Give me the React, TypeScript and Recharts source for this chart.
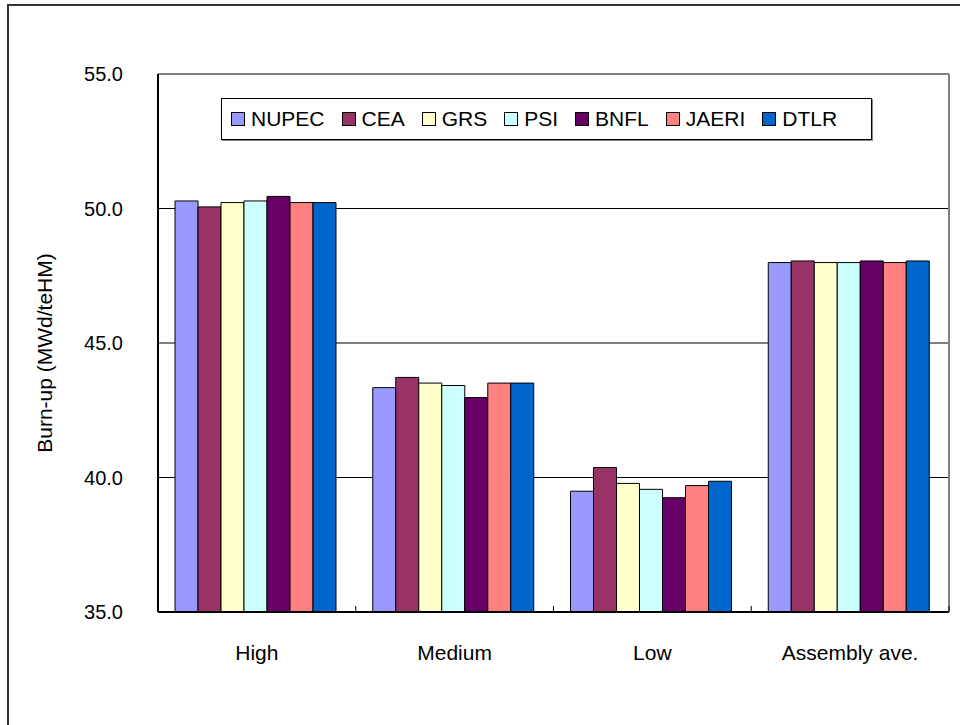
import { BarChart, Bar, XAxis, YAxis, CartesianGrid } from "recharts";

const categories = ["High", "Medium", "Low", "Assembly ave."];

const seriesNames = ["NUPEC", "CEA", "GRS", "PSI", "BNFL", "JAERI", "DTLR"];
const seriesColors = ["#9999FF", "#993366", "#FFFFCC", "#CCFFFF", "#660066", "#FF8080", "#0066CC"];

// burn-up per region, one array per participant
const nupec = [50.28, 43.34, 39.49, 47.99];
const cea = [50.06, 43.72, 40.37, 48.05];
const grs = [50.22, 43.51, 39.78, 47.99];
const psi = [50.28, 43.42, 39.56, 47.99];
const bnfl = [50.45, 42.97, 39.25, 48.05];
const jaeri = [50.22, 43.51, 39.7, 47.99];
const dtlr = [50.22, 43.51, 39.86, 48.05];

const yTicks = [35, 40, 45, 50, 55];

const seriesValues = [nupec, cea, grs, psi, bnfl, jaeri, dtlr];

const chartData = categories.map((name, i) => {
  const row: Record<string, string | number> = { name };
  seriesNames.forEach((s, j) => {
    row[s] = seriesValues[j][i];
  });
  return row;
});

const FONT = "'Liberation Sans', Arial, Helvetica, sans-serif";
const TICK_GAP = 33;

function YLabel({ viewBox }: any) {
  const cy = viewBox.y + viewBox.height / 2 + 10;
  return (
    <text
      x={52}
      y={cy}
      transform={`rotate(-90, 52, ${cy})`}
      textAnchor="middle"
      fontSize={21}
      fontFamily={FONT}
      fill="#000"
    >
      Burn-up (MWd/teHM)
    </text>
  );
}

// category label plus the small inward tick at the band boundaries
function CatTick({ x, y, payload, index, visibleTicksCount }: any) {
  const half = payload.offset || 791 / categories.length / 2;
  const axisY = y - TICK_GAP;
  const last = index === (visibleTicksCount ?? categories.length) - 1;
  return (
    <g>
      <line x1={x - half} x2={x - half} y1={axisY} y2={axisY - 6} stroke="#000" />
      {last && <line x1={x + half} x2={x + half} y1={axisY} y2={axisY - 6} stroke="#000" />}
      <text x={x} y={y} dy="0.71em" textAnchor="middle" fontSize={21} fontFamily={FONT} fill="#000">
        {payload.value}
      </text>
    </g>
  );
}

export default function App() {
  return (
    <div
      style={{
        position: "absolute",
        left: 0,
        top: 0,
        width: 960,
        height: 725,
        overflow: "hidden",
        background: "#fff",
        fontFamily: FONT,
      }}
    >
      <div
        style={{
          position: "absolute",
          left: 7,
          top: 4,
          width: 980,
          height: 760,
          border: "2px solid #333",
        }}
      />
      <BarChart
        width={960}
        height={725}
        data={chartData}
        margin={{ top: 73, right: 10, left: 78, bottom: 112 }}
        barCategoryGap={17}
        barGap={0}
        style={{ position: "absolute", left: 0, top: 0 }}
      >
        <CartesianGrid
          yAxisId="left"
          xAxisId="cat"
          vertical={false}
          horizontalValues={[40, 45, 50]}
          stroke="#000"
          strokeWidth={1}
        />
        <XAxis
          xAxisId="top"
          orientation="top"
          dataKey="name"
          height={1}
          tick={false}
          tickLine={false}
          axisLine={{ stroke: "#808080", strokeWidth: 2 }}
        />
        <XAxis
          xAxisId="cat"
          dataKey="name"
          height={1}
          tickLine={false}
          tickSize={0}
          tickMargin={TICK_GAP}
          axisLine={{ stroke: "#000", strokeWidth: 2 }}
          tick={<CatTick />}
        />
        <YAxis
          yAxisId="left"
          width={80}
          domain={[35, 55]}
          ticks={yTicks}
          allowDataOverflow
          tickFormatter={(v: number) => v.toFixed(1)}
          tickLine={false}
          tickSize={0}
          tickMargin={35}
          axisLine={{ stroke: "#000", strokeWidth: 2 }}
          tick={{ fontSize: 20, fill: "#000", fontFamily: FONT }}
          label={<YLabel />}
        />
        <YAxis
          yAxisId="r"
          orientation="right"
          width={1}
          domain={[35, 55]}
          tick={false}
          tickLine={false}
          axisLine={{ stroke: "#808080", strokeWidth: 2 }}
        />
        {seriesNames.map((s, j) => (
          <Bar
            key={s}
            dataKey={s}
            xAxisId="cat"
            yAxisId="left"
            fill={seriesColors[j]}
            stroke="#000"
            strokeWidth={1}
            isAnimationActive={false}
          />
        ))}
      </BarChart>
      <div
        style={{
          position: "absolute",
          left: 221,
          top: 98,
          width: 651,
          height: 42,
          boxSizing: "border-box",
          border: "1px solid #000",
          boxShadow: "1px 1px 0 #888",
          background: "#fff",
          display: "flex",
          alignItems: "center",
          paddingLeft: 9,
        }}
      >
        {seriesNames.map((s, j) => (
          <div key={s} style={{ display: "flex", alignItems: "center", marginRight: 17 }}>
            <span
              style={{
                display: "inline-block",
                width: 14,
                height: 14,
                boxSizing: "border-box",
                border: "1px solid #000",
                background: seriesColors[j],
                marginRight: 6,
              }}
            />
            <span style={{ fontSize: 21, color: "#000", lineHeight: "24px" }}>{s}</span>
          </div>
        ))}
      </div>
    </div>
  );
}
